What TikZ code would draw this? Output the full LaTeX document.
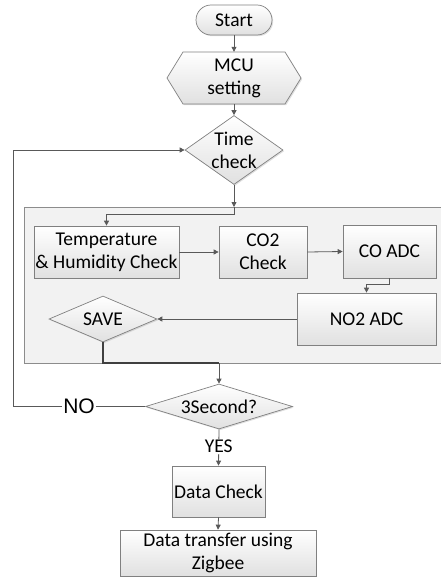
\documentclass[tikz,border=0pt]{standalone}
\usepackage{fontspec}
\setmainfont{Carlito}
\newfontfamily\nofont{Liberation Sans}
\usetikzlibrary{arrows.meta,shapes.geometric,shadows}
\begin{document}
\begin{tikzpicture}[x=1pt,y=-1pt,
  font=\fontsize{19.5}{23}\selectfont,
  line/.style={draw=black!65, line width=0.8pt},
  arr/.style={line, -{Triangle[length=5pt,width=5pt]}},
  shade/.style={top color=white, bottom color=black!12, draw=black!50, line width=0.7pt,
    drop shadow={shadow xshift=1.2pt, shadow yshift=-1.2pt, opacity=0.25}},
  box/.style={shade, rectangle, align=center, inner sep=0pt},
  dia/.style={shade, diamond, inner sep=0pt},
  dtext/.style={align=center, inner sep=0pt, font=\fontsize{19.5}{23}\selectfont},
  hold/.style={rectangle, inner sep=0pt, align=center}
]
\useasboundingbox (0,0) rectangle (441,578);
% container
\path[fill=black!5, draw=black!45, line width=0.8pt] (24,207) rectangle (470,363);

% start
\node[box, rounded corners=15pt, minimum width=76pt, minimum height=30pt] (start) at (234,20) {Start};

% MCU hexagon
\coordinate (mc) at (234,78);
\path[shade] ([shift={(-67,0)}]mc) -- ([shift={(-51,-26)}]mc) -- ([shift={(51,-26)}]mc)
  -- ([shift={(67,0)}]mc) -- ([shift={(51,26)}]mc) -- ([shift={(-51,26)}]mc) -- cycle;
\node[hold, minimum width=134pt, minimum height=52pt] (mcu) at (mc) {MCU\\setting};

% Time check
\node[dia, minimum width=98pt, minimum height=69pt, label={[dtext]center:{Time\\check}}] (time) at (234,150) {};

% inside boxes
\node[box, minimum width=145pt, minimum height=52pt] (temp) at (106.5,252) {Temperature\\\& Humidity Check};
\node[box, minimum width=88pt, minimum height=52pt] (co2) at (263,252) {CO2\\Check};
\node[box, minimum width=93pt, minimum height=53pt] (coadc) at (389.5,251.5) {CO ADC};
\node[box, minimum width=139pt, minimum height=52pt] (no2) at (366.5,319) {NO2 ADC};
\node[dia, minimum width=108pt, minimum height=46pt, label={[dtext]center:{SAVE}}] (save) at (103,319) {};

% 3 second
\node[dia, minimum width=147pt, minimum height=45pt, label={[dtext]center:{3Second?}}] (sec) at (219,406.5) {};

\node[box, minimum width=93pt, minimum height=51pt] (dchk) at (218.5,491.5) {Data Check};
\node[box, minimum width=196pt, minimum height=46pt] (tx) at (218,553) {Data transfer using\\Zigbee};

% connectors
\draw[arr] (start.south) -- (mcu.north);
\draw[arr] (mcu.south) -- (time.north);
\coordinate (cin) at (234,207);
\draw[arr] (time.south) -- (cin);
\draw[arr] (cin) -- ++(0,7) -| (temp.north);
\draw[arr] (temp.east) -- (co2.west);
\draw[arr] (co2.east) -- (coadc.west);
\draw[arr] (coadc.south) -- ++(0,6) -| (no2.north);
\draw[arr] (no2.west) -- (save.east);
\coordinate (cout) at (219,363);
\draw[draw=black!75, line width=1.3pt] (save.south) |- (cout);
\draw[arr] (cout) -- (sec.north);
\coordinate (lp) at (13,406.5);
\draw[arr] (sec.west) -- node[midway, fill=white, inner sep=1pt, font=\nofont\fontsize{21}{24}\selectfont] {NO} (lp) |- (time.west);
\draw[arr] (sec.south) -- node[pos=0.47, fill=white, inner sep=1pt] {YES} (dchk.north);
\draw[arr] (dchk.south) -- (tx.north);
\end{tikzpicture}
\end{document}
